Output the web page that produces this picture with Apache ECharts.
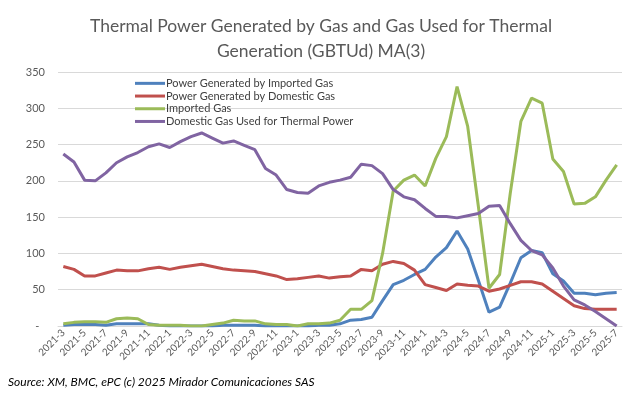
<!DOCTYPE html>
<html>
<head>
<meta charset="utf-8">
<script src="https://cdn.jsdelivr.net/npm/echarts@6/dist/echarts.min.js"></script>
<style>
  html, body { margin: 0; padding: 0; background: #fff; }
  #chart { width: 642px; height: 396px; }
</style>
</head>
<body>
<div id="chart"></div>
<script>
// months, 2021-3 .. 2025-7
var months = [
  "2021-3", "2021-4", "2021-5", "2021-6", "2021-7", "2021-8", "2021-9", "2021-10", "2021-11", "2021-12",
  "2022-1", "2022-2", "2022-3", "2022-4", "2022-5", "2022-6", "2022-7", "2022-8", "2022-9", "2022-10", "2022-11", "2022-12",
  "2023-1", "2023-2", "2023-3", "2023-4", "2023-5", "2023-6", "2023-7", "2023-8", "2023-9", "2023-10", "2023-11", "2023-12",
  "2024-1", "2024-2", "2024-3", "2024-4", "2024-5", "2024-6", "2024-7", "2024-8", "2024-9", "2024-10", "2024-11", "2024-12",
  "2025-1", "2025-2", "2025-3", "2025-4", "2025-5", "2025-6", "2025-7"
];

var powerImported = [
  1, 2, 2, 2, 1, 3, 3, 3, 3, 1,
  0, 0, 0, 0, 0, 1, 1, 1, 1, 0,
  0, 0, 0, 0, 1, 1, 3, 8, 9, 12,
  35, 57, 63, 71, 78, 95, 108, 131, 106, 63,
  19, 26, 59, 94, 104, 101, 72, 62, 45, 45,
  43, 45, 46
];
var powerDomestic = [
  82, 78, 69, 69, 73, 77, 76, 76, 79, 81,
  78, 81, 83, 85, 82, 79, 77, 76, 75, 72,
  69, 64, 65, 67, 69, 66, 68, 69, 78, 76,
  85, 89, 86, 77, 57, 53, 49, 58, 56, 55,
  48, 51, 56, 61, 61, 58, 48, 38, 28, 24,
  23, 23, 23
];
var importedGas = [
  3, 5, 6, 6, 5, 10, 11, 10, 2, 1,
  1, 1, 0, 0, 2, 4, 8, 7, 7, 3,
  2, 2, 0, 3, 3, 4, 8, 23, 23, 35,
  100, 186, 201, 208, 193, 231, 261, 330, 275, 165,
  52, 71, 183, 282, 314, 307, 230, 213, 168, 169,
  178, 201, 222
];
var domesticGas = [
  237, 226, 201, 200, 211, 225, 233, 239, 247, 251,
  246, 254, 261, 266, 259, 252, 255, 249, 243, 217,
  208, 188, 184, 183, 193, 198, 201, 205, 223, 221,
  210, 188, 178, 174, 162, 151, 151, 149, 152, 155,
  165, 166, 141, 118, 104, 98, 80, 55, 36, 29,
  20, 10, 0
];

var seriesNames = [
  "Power Generated by Imported Gas",
  "Power Generated by Domestic Gas",
  "Imported Gas",
  "Domestic Gas Used for Thermal Power"
];

var font = "Lato";
var myChart = echarts.init(document.getElementById("chart"));

function lineSeries(name, data) {
  return {
    name: name,
    type: "line",
    data: data,
    symbol: "none",
    lineStyle: { width: 3 }
  };
}

var option = {
  animation: false,
  color: ["#4F81BD", "#C0504D", "#9BBB59", "#8064A2"],
  title: {
    text: "Thermal Power Generated by Gas and Gas Used for Thermal\nGeneration (GBTUd) MA(3)",
    left: "center",
    top: 9,
    textStyle: {
      fontFamily: font,
      fontSize: 17.5,
      fontWeight: "normal",
      color: "#595959",
      lineHeight: 25
    }
  },
  legend: {
    orient: "vertical",
    left: 130,
    top: 72,
    icon: "rect",
    itemWidth: 30,
    itemHeight: 3,
    itemGap: 0,
    textStyle: {
      fontFamily: font,
      fontSize: 11,
      color: "#404040",
      lineHeight: 12.7,
      padding: [0, 0, 0, -4]
    },
    data: seriesNames
  },
  grid: {
    left: 58,
    right: 20,
    top: 72,
    bottom: 70
  },
  xAxis: {
    type: "category",
    data: months,
    boundaryGap: true,
    axisLine: { lineStyle: { color: "#d9d9d9", width: 1 } },
    axisTick: { show: false },
    axisLabel: {
      interval: 1,
      rotate: 45,
      margin: 5,
      fontFamily: font,
      fontSize: 10,
      color: "#595959"
    }
  },
  yAxis: {
    type: "value",
    min: 0,
    max: 350,
    interval: 50,
    axisLine: { show: false },
    axisTick: { show: false },
    splitLine: { lineStyle: { color: "#d9d9d9", width: 1 } },
    axisLabel: {
      margin: 13,
      fontFamily: font,
      fontSize: 11,
      color: "#595959",
      formatter: function (v) { return v === 0 ? "-  " : v; }
    }
  },
  graphic: [
    {
      type: "text",
      left: 8,
      top: 376,
      style: {
        text: "Source: XM, BMC, ePC (c) 2025 Mirador Comunicaciones SAS",
        fontFamily: font,
        fontStyle: "italic",
        fontSize: 12,
        fill: "#000"
      }
    }
  ],
  series: [
    lineSeries(seriesNames[0], powerImported),
    lineSeries(seriesNames[1], powerDomestic),
    lineSeries(seriesNames[2], importedGas),
    lineSeries(seriesNames[3], domesticGas)
  ]
};

myChart.setOption(option);
</script>
</body>
</html>
